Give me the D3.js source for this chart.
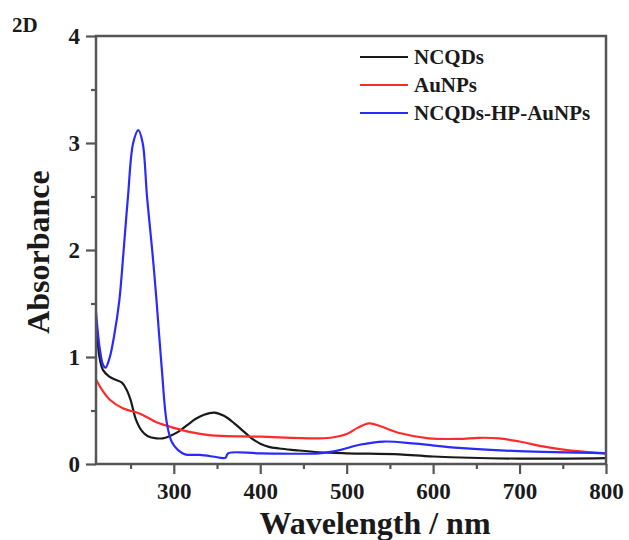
<!DOCTYPE html>
<html>
<head>
<meta charset="utf-8">
<script src="https://cdn.jsdelivr.net/npm/d3@7"></script>
<style>
  body { margin: 0; background: #fff; }
  svg text { font-family: "Liberation Serif", "Times New Roman", serif; font-weight: bold; fill: #1a1a1a; }
</style>
</head>
<body>
<svg id="chart" width="629" height="540"></svg>
<script>
// UV-vis spectra: wavelength (nm) and absorbance for each sample
const ncqdsWl = [210, 214, 218, 225, 232, 240, 245, 250, 256, 263, 270, 280, 287, 295, 305, 315, 325, 335, 347, 358, 370, 380, 390, 400, 410, 422, 440, 468, 500, 561, 600, 700, 800];
const ncqdsAbs = [1.35, 1.0, 0.88, 0.82, 0.79, 0.76, 0.70, 0.60, 0.42, 0.31, 0.26, 0.24, 0.24, 0.26, 0.30, 0.36, 0.42, 0.46, 0.48, 0.45, 0.38, 0.31, 0.24, 0.19, 0.16, 0.145, 0.13, 0.11, 0.10, 0.09, 0.07, 0.05, 0.055];

const aunpsWl = [210, 218, 226, 241, 261, 280, 299, 318, 341, 400, 468, 485, 500, 513, 526, 540, 561, 595, 630, 653, 676, 700, 730, 760, 800];
const aunpsAbs = [0.79, 0.68, 0.60, 0.52, 0.47, 0.39, 0.34, 0.30, 0.27, 0.255, 0.24, 0.25, 0.28, 0.34, 0.38, 0.35, 0.29, 0.24, 0.235, 0.245, 0.24, 0.21, 0.16, 0.125, 0.10];

const hybridWl = [210, 214, 218, 221, 226, 231, 237, 242, 247, 253, 259, 264, 269, 275, 280, 286, 292, 298, 305, 313, 330, 345, 357, 360, 363, 400, 468, 492, 515, 543, 580, 630, 699, 800];
const hybridAbs = [1.42, 1.1, 0.93, 0.90, 1.0, 1.2, 1.53, 2.0, 2.5, 3.0, 3.12, 3.0, 2.5, 2.0, 1.53, 0.9, 0.38, 0.2, 0.13, 0.09, 0.085, 0.07, 0.055, 0.06, 0.10, 0.10, 0.10, 0.13, 0.18, 0.21, 0.19, 0.15, 0.12, 0.10];

const seriesNames = ["NCQDs", "AuNPs", "NCQDs-HP-AuNPs"];
const seriesColors = ["#1a1a1a", "#ff2a2a", "#2a2aff"];

const xTicks = [300, 400, 500, 600, 700, 800];
const xMinorTicks = [250, 350, 450, 550, 650, 750];
const yTicks = [0, 1, 2, 3, 4];
const yMinorTicks = [0.5, 1.5, 2.5, 3.5];

const plot = { left: 96, right: 606, top: 36, bottom: 464 };
const axisColor = "#555";

const svg = d3.select("#chart");

const x = d3.scaleLinear().domain([210, 800]).range([plot.left, plot.right]);
const y = d3.scaleLinear().domain([0, 4]).range([plot.bottom, plot.top]);

// Bottom axis with major and minor ticks
svg.append("g")
  .attr("transform", `translate(0,${plot.bottom})`)
  .call(d3.axisBottom(x).tickValues(xTicks).tickSize(10).tickPadding(9).tickFormat(d3.format("d")));
svg.append("g")
  .attr("transform", `translate(0,${plot.bottom})`)
  .call(d3.axisBottom(x).tickValues(xMinorTicks).tickSize(5).tickFormat(""));

// Left axis with major and minor ticks
svg.append("g")
  .attr("transform", `translate(${plot.left},0)`)
  .call(d3.axisLeft(y).tickValues(yTicks).tickSize(10).tickPadding(6).tickFormat(d3.format("d")));
svg.append("g")
  .attr("transform", `translate(${plot.left},0)`)
  .call(d3.axisLeft(y).tickValues(yMinorTicks).tickSize(5).tickFormat(""));

svg.selectAll(".domain").remove();
svg.selectAll(".tick line").attr("stroke", axisColor).attr("stroke-width", 2.2);
svg.selectAll(".tick text")
  .style("font-size", "23px")
  .style("font-family", "'Liberation Serif', serif")
  .style("font-weight", "bold")
  .attr("fill", "#1a1a1a");

// Spectra
const line = d3.line()
  .x((d) => x(d[0]))
  .y((d) => y(d[1]))
  .curve(d3.curveCatmullRom.alpha(0.5));

const spectra = [
  d3.zip(ncqdsWl, ncqdsAbs),
  d3.zip(aunpsWl, aunpsAbs),
  d3.zip(hybridWl, hybridAbs)
];

svg.append("g")
  .selectAll("path")
  .data(spectra)
  .enter()
  .append("path")
  .attr("d", line)
  .attr("fill", "none")
  .attr("stroke", (d, i) => seriesColors[i])
  .attr("stroke-width", 2.2);

// Frame around the plot area
svg.append("rect")
  .attr("x", plot.left)
  .attr("y", plot.top)
  .attr("width", plot.right - plot.left)
  .attr("height", plot.bottom - plot.top)
  .attr("fill", "none")
  .attr("stroke", axisColor)
  .attr("stroke-width", 2.5);

// Legend
const legend = svg.append("g");
seriesNames.forEach((name, i) => {
  const ly = 57 + i * 28;
  legend.append("line")
    .attr("x1", 360).attr("x2", 408)
    .attr("y1", ly).attr("y2", ly)
    .attr("stroke", seriesColors[i])
    .attr("stroke-width", 2.2);
  legend.append("text")
    .attr("x", 414)
    .attr("y", ly + 7)
    .style("font-size", "21px")
    .text(name);
});

// Axis titles and panel label
svg.append("text")
  .attr("x", 375)
  .attr("y", 534)
  .attr("text-anchor", "middle")
  .style("font-size", "32px")
  .text("Wavelength / nm");

svg.append("text")
  .attr("transform", "rotate(-90)")
  .attr("x", -252)
  .attr("y", 49)
  .attr("text-anchor", "middle")
  .style("font-size", "32px")
  .text("Absorbance");

svg.append("text")
  .attr("x", 12)
  .attr("y", 32)
  .style("font-size", "21px")
  .text("2D");
</script>
</body>
</html>
